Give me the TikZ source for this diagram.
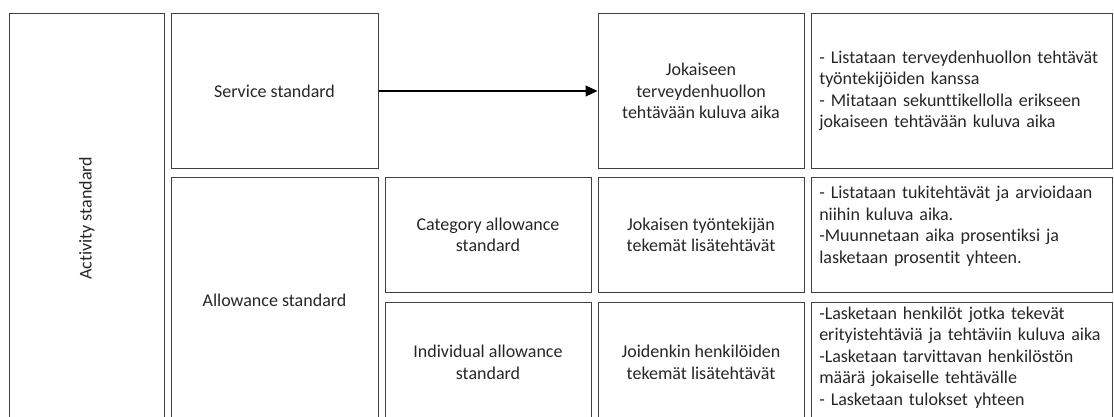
\documentclass[tikz,border=0pt]{standalone}
\usepackage{fontspec}
\setmainfont[Ligatures=NoCommon]{Carlito}
\usetikzlibrary{arrows.meta,positioning}
\tikzset{
    stdbox/.style={draw=black!75, line width=1pt, rectangle, text=black!85, font=\fontsize{18}{21.5}\selectfont, minimum width=206pt, align=center, inner sep=0pt},
    descbox/.style={draw=black!75, line width=1pt, rectangle, text=black!85, font=\fontsize{18}{21.5}\selectfont, text width=285.5pt, inner xsep=8pt, inner ysep=0pt, align=left},
    flowArrow/.style={line width=1.2pt, black, -{Triangle[length=12pt, width=11pt]}},
}

\begin{document}
\begin{tikzpicture}[x=1pt, y=-1pt]
\useasboundingbox (0,0) rectangle (1114,417);
\clip (0,0) rectangle (1114,417);

\node[stdbox, rotate=90, minimum width=409.5pt, minimum height=154.5pt] (activity) at (86.75, 218.25) {Activity standard};
\node[stdbox, minimum width=207pt, minimum height=155pt] (service) at (274.5, 91) {Service standard};
\node[stdbox, minimum width=207pt, minimum height=245pt] (allowance) at (274.5, 300.5) {Allowance standard};
\node[stdbox, minimum height=114pt] (category) at (488, 235) {Category allowance\\standard};
\node[stdbox, minimum height=121pt] (individual) at (488, 362.5) {Individual allowance\\standard};

\node[stdbox, minimum height=155pt] (taskTime) at (701, 91) {Jokaiseen\\terveydenhuollon\\tehtävään kuluva aika};
\node[stdbox, minimum height=114pt] (taskExtra) at (701, 235) {Jokaisen työntekijän\\tekemät lisätehtävät};
\node[stdbox, minimum height=121pt] (taskSome) at (701, 362.5) {Joidenkin henkilöiden\\tekemät lisätehtävät};

\node[descbox, minimum height=155pt] (descTime) at (962, 91) {- Listataan terveydenhuollon tehtävät\\työntekijöiden kanssa\\- Mitataan sekunttikellolla erikseen\\jokaiseen tehtävään kuluva aika};
\node[descbox, minimum height=114pt, text depth=85pt] (descExtra) at (962, 235) {- Listataan tukitehtävät ja arvioidaan\\niihin kuluva aika.\\-Muunnetaan aika prosentiksi ja\\lasketaan prosentit yhteen.};
\node[descbox, minimum height=121pt, text depth=99pt] (descSome) at (962, 362.5) {-Lasketaan henkilöt jotka tekevät\\erityistehtäviä ja tehtäviin kuluva aika\\-Lasketaan tarvittavan henkilöstön\\määrä jokaiselle tehtävälle\\- Lasketaan tulokset yhteen};

\draw[flowArrow] (service) -- (taskTime);

\end{tikzpicture}
\end{document}
